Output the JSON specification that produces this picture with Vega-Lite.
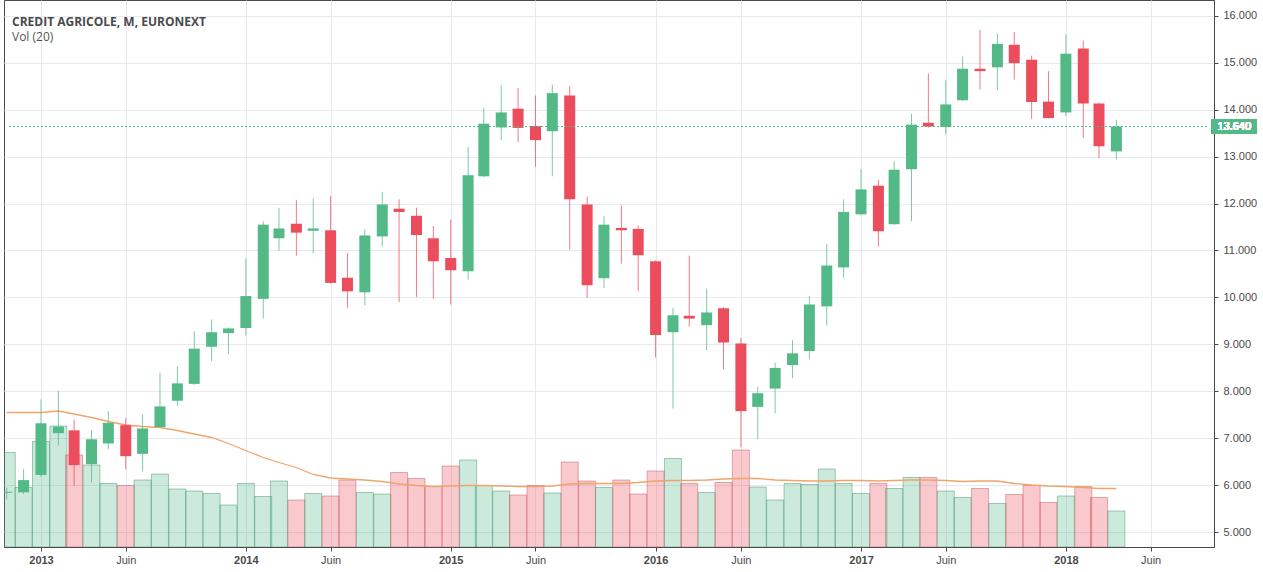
{
  "$schema": "https://vega.github.io/schema/vega-lite/v6.json",
  "width": 1210,
  "height": 547,
  "padding": {"left": 4, "top": 0, "right": 0, "bottom": 0},
  "autosize": {"type": "pad"},
  "background": "white",
  "title": {
    "text": "CREDIT AGRICOLE, M, EURONEXT",
    "subtitle": "Vol (20)",
    "anchor": "start",
    "frame": "group",
    "orient": "top",
    "offset": -44,
    "dx": 8,
    "font": "Open Sans",
    "fontSize": 12,
    "fontWeight": "bold",
    "color": "#4a4a4a",
    "subtitleFont": "Open Sans",
    "subtitleFontSize": 12,
    "subtitleColor": "#555555",
    "subtitlePadding": 3
  },
  "config": {
    "view": {"stroke": "#4a4a4a", "strokeWidth": 1},
    "axis": {
      "gridColor": "#e6e9ee",
      "domainColor": "#4a4a4a",
      "tickColor": "#4a4a4a",
      "labelColor": "#4a4a4a",
      "labelFont": "Liberation Sans",
      "labelFontSize": 11,
      "tickSize": 4
    }
  },
  "data": {
    "values": [
      {"date": "2012-11-01", "open": 5.84, "high": 5.95, "low": 5.70, "close": 5.86, "vol": 189, "ma": 269},
      {"date": "2012-12-01", "open": 5.85, "high": 6.34, "low": 5.81, "close": 6.11, "vol": 119, "ma": 269},
      {"date": "2013-01-01", "open": 6.22, "high": 7.83, "low": 6.18, "close": 7.32, "vol": 211, "ma": 269},
      {"date": "2013-02-01", "open": 7.11, "high": 8.01, "low": 6.85, "close": 7.25, "vol": 242, "ma": 272},
      {"date": "2013-03-01", "open": 7.17, "high": 7.40, "low": 5.99, "close": 6.43, "vol": 184, "ma": 266},
      {"date": "2013-04-01", "open": 6.45, "high": 7.18, "low": 6.06, "close": 6.98, "vol": 164, "ma": 259},
      {"date": "2013-05-01", "open": 6.89, "high": 7.58, "low": 6.77, "close": 7.33, "vol": 127, "ma": 251},
      {"date": "2013-06-01", "open": 7.28, "high": 7.43, "low": 6.34, "close": 6.62, "vol": 123, "ma": 244},
      {"date": "2013-07-01", "open": 6.67, "high": 7.51, "low": 6.30, "close": 7.21, "vol": 134, "ma": 241},
      {"date": "2013-08-01", "open": 7.24, "high": 8.40, "low": 7.22, "close": 7.68, "vol": 146, "ma": 239},
      {"date": "2013-09-01", "open": 7.80, "high": 8.53, "low": 7.69, "close": 8.17, "vol": 116, "ma": 233},
      {"date": "2013-10-01", "open": 8.16, "high": 9.28, "low": 8.14, "close": 8.91, "vol": 112, "ma": 226},
      {"date": "2013-11-01", "open": 8.95, "high": 9.53, "low": 8.64, "close": 9.26, "vol": 107, "ma": 219},
      {"date": "2013-12-01", "open": 9.24, "high": 9.36, "low": 8.79, "close": 9.34, "vol": 84, "ma": 207},
      {"date": "2014-01-01", "open": 9.35, "high": 10.83, "low": 9.19, "close": 10.03, "vol": 127, "ma": 193},
      {"date": "2014-02-01", "open": 9.97, "high": 11.62, "low": 9.55, "close": 11.55, "vol": 101, "ma": 179},
      {"date": "2014-03-01", "open": 11.26, "high": 11.91, "low": 10.99, "close": 11.47, "vol": 132, "ma": 169},
      {"date": "2014-04-01", "open": 11.57, "high": 12.07, "low": 10.89, "close": 11.38, "vol": 94, "ma": 159},
      {"date": "2014-05-01", "open": 11.42, "high": 12.11, "low": 10.94, "close": 11.47, "vol": 107, "ma": 145},
      {"date": "2014-06-01", "open": 11.43, "high": 12.16, "low": 10.29, "close": 10.31, "vol": 102, "ma": 138},
      {"date": "2014-07-01", "open": 10.42, "high": 10.95, "low": 9.78, "close": 10.13, "vol": 134, "ma": 136},
      {"date": "2014-08-01", "open": 10.11, "high": 11.45, "low": 9.83, "close": 11.32, "vol": 109, "ma": 134},
      {"date": "2014-09-01", "open": 11.30, "high": 12.25, "low": 11.08, "close": 11.98, "vol": 106, "ma": 131},
      {"date": "2014-10-01", "open": 11.89, "high": 12.09, "low": 9.90, "close": 11.82, "vol": 149, "ma": 126},
      {"date": "2014-11-01", "open": 11.74, "high": 11.91, "low": 10.01, "close": 11.33, "vol": 137, "ma": 123},
      {"date": "2014-12-01", "open": 11.26, "high": 11.52, "low": 9.97, "close": 10.77, "vol": 121, "ma": 121},
      {"date": "2015-01-01", "open": 10.84, "high": 11.66, "low": 9.85, "close": 10.58, "vol": 162, "ma": 122},
      {"date": "2015-02-01", "open": 10.56, "high": 13.20, "low": 10.38, "close": 12.60, "vol": 174, "ma": 123},
      {"date": "2015-03-01", "open": 12.58, "high": 14.04, "low": 12.56, "close": 13.70, "vol": 123, "ma": 123},
      {"date": "2015-04-01", "open": 13.62, "high": 14.52, "low": 13.35, "close": 13.94, "vol": 112, "ma": 122},
      {"date": "2015-05-01", "open": 14.02, "high": 14.46, "low": 13.31, "close": 13.61, "vol": 104, "ma": 121},
      {"date": "2015-06-01", "open": 13.65, "high": 14.30, "low": 12.78, "close": 13.35, "vol": 123, "ma": 121},
      {"date": "2015-07-01", "open": 13.54, "high": 14.53, "low": 12.58, "close": 14.35, "vol": 108, "ma": 122},
      {"date": "2015-08-01", "open": 14.30, "high": 14.50, "low": 11.02, "close": 12.09, "vol": 170, "ma": 126},
      {"date": "2015-09-01", "open": 11.98, "high": 12.14, "low": 9.99, "close": 10.26, "vol": 132, "ma": 127},
      {"date": "2015-10-01", "open": 10.41, "high": 11.74, "low": 10.20, "close": 11.55, "vol": 119, "ma": 127},
      {"date": "2015-11-01", "open": 11.48, "high": 11.96, "low": 10.72, "close": 11.43, "vol": 134, "ma": 127},
      {"date": "2015-12-01", "open": 11.46, "high": 11.53, "low": 10.13, "close": 10.90, "vol": 106, "ma": 129},
      {"date": "2016-01-01", "open": 10.77, "high": 10.79, "low": 8.72, "close": 9.20, "vol": 152, "ma": 132},
      {"date": "2016-02-01", "open": 9.26, "high": 9.78, "low": 7.63, "close": 9.62, "vol": 177, "ma": 133},
      {"date": "2016-03-01", "open": 9.61, "high": 10.89, "low": 9.38, "close": 9.55, "vol": 127, "ma": 133},
      {"date": "2016-04-01", "open": 9.41, "high": 10.19, "low": 8.87, "close": 9.68, "vol": 109, "ma": 134},
      {"date": "2016-05-01", "open": 9.77, "high": 9.79, "low": 8.47, "close": 9.04, "vol": 129, "ma": 136},
      {"date": "2016-06-01", "open": 9.02, "high": 9.14, "low": 6.81, "close": 7.58, "vol": 194, "ma": 137},
      {"date": "2016-07-01", "open": 7.67, "high": 8.10, "low": 6.99, "close": 7.96, "vol": 120, "ma": 137},
      {"date": "2016-08-01", "open": 8.06, "high": 8.61, "low": 7.53, "close": 8.50, "vol": 94, "ma": 134},
      {"date": "2016-09-01", "open": 8.56, "high": 9.09, "low": 8.28, "close": 8.81, "vol": 127, "ma": 133},
      {"date": "2016-10-01", "open": 8.86, "high": 10.03, "low": 8.68, "close": 9.85, "vol": 125, "ma": 132},
      {"date": "2016-11-01", "open": 9.81, "high": 11.14, "low": 9.40, "close": 10.68, "vol": 156, "ma": 132},
      {"date": "2016-12-01", "open": 10.64, "high": 12.09, "low": 10.42, "close": 11.82, "vol": 127, "ma": 133},
      {"date": "2017-01-01", "open": 11.77, "high": 12.74, "low": 11.75, "close": 12.30, "vol": 107, "ma": 133},
      {"date": "2017-02-01", "open": 12.38, "high": 12.50, "low": 11.08, "close": 11.41, "vol": 127, "ma": 132},
      {"date": "2017-03-01", "open": 11.56, "high": 12.90, "low": 11.54, "close": 12.72, "vol": 117, "ma": 133},
      {"date": "2017-04-01", "open": 12.73, "high": 13.91, "low": 11.62, "close": 13.68, "vol": 139, "ma": 134},
      {"date": "2017-05-01", "open": 13.72, "high": 14.77, "low": 13.62, "close": 13.64, "vol": 139, "ma": 134},
      {"date": "2017-06-01", "open": 13.63, "high": 14.62, "low": 13.47, "close": 14.11, "vol": 112, "ma": 133},
      {"date": "2017-07-01", "open": 14.20, "high": 15.13, "low": 14.18, "close": 14.87, "vol": 99, "ma": 131},
      {"date": "2017-08-01", "open": 14.87, "high": 15.70, "low": 14.43, "close": 14.82, "vol": 117, "ma": 132},
      {"date": "2017-09-01", "open": 14.90, "high": 15.62, "low": 14.41, "close": 15.40, "vol": 87, "ma": 132},
      {"date": "2017-10-01", "open": 15.38, "high": 15.65, "low": 14.64, "close": 14.99, "vol": 105, "ma": 127},
      {"date": "2017-11-01", "open": 15.06, "high": 15.15, "low": 13.80, "close": 14.16, "vol": 123, "ma": 124},
      {"date": "2017-12-01", "open": 14.17, "high": 14.82, "low": 13.81, "close": 13.82, "vol": 89, "ma": 122},
      {"date": "2018-01-01", "open": 13.94, "high": 15.60, "low": 13.86, "close": 15.19, "vol": 102, "ma": 121},
      {"date": "2018-02-01", "open": 15.30, "high": 15.47, "low": 13.40, "close": 14.13, "vol": 121, "ma": 119},
      {"date": "2018-03-01", "open": 14.13, "high": 14.15, "low": 12.97, "close": 13.22, "vol": 99, "ma": 117},
      {"date": "2018-04-01", "open": 13.11, "high": 13.79, "low": 12.94, "close": 13.64, "vol": 72, "ma": 117}
    ]
  },
  "layer": [
    {
      "mark": {"type": "bar", "size": 17, "clip": true, "fillOpacity": 0.3, "strokeOpacity": 0.45, "strokeWidth": 1},
      "encoding": {
        "x": {
          "field": "date",
          "type": "temporal",
          "title": null,
          "scale": {"type": "utc", "nice": false, "domain": [{"year": 2012, "month": 11, "date": 5, "utc": true}, {"year": 2018, "month": 9, "date": 13, "utc": true}]},
          "axis": {
            "values": [1356998400000, 1370044800000, 1388534400000, 1401580800000, 1420070400000, 1433116800000, 1451606400000, 1464739200000, 1483228800000, 1496275200000, 1514764800000, 1527811200000],
            "labelExpr": "utcmonth(datum.value) == 0 ? utcFormat(datum.value, '%Y') : 'Juin'",
            "labelFontWeight": {"condition": {"test": "utcmonth(datum.value) == 0", "value": "bold"}, "value": "normal"},
            "grid": true,
            "labelPadding": 3,
            "labelFlush": false
          }
        },
        "y": {"field": "vol", "type": "quantitative", "title": null, "axis": null, "scale": {"domain": [0, 1094], "nice": false}},
        "color": {"condition": {"test": "datum.close >= datum.open", "value": "#53b987"}, "value": "#eb4d5c"},
        "stroke": {"condition": {"test": "datum.close >= datum.open", "value": "#3f8f68"}, "value": "#c0505c"}
      }
    },
    {
      "mark": {"type": "line", "clip": true, "color": "#f0a46a", "strokeWidth": 1.3},
      "encoding": {
        "x": {"field": "date", "type": "temporal", "title": null},
        "y": {"field": "ma", "type": "quantitative", "title": null, "axis": null, "scale": {"domain": [0, 1094], "nice": false}}
      }
    },
    {
      "mark": {"type": "rule", "clip": true, "strokeWidth": 1, "opacity": 0.75},
      "encoding": {
        "x": {"field": "date", "type": "temporal", "title": null},
        "y": {
          "field": "low", "type": "quantitative", "title": null,
          "scale": {"domain": [4.686, 16.334], "nice": false, "zero": false},
          "axis": {"orient": "right", "values": [5, 6, 7, 8, 9, 10, 11, 12, 13, 14, 15, 16], "format": ".3f", "grid": true, "labelPadding": 5}
        },
        "y2": {"field": "high"},
        "color": {"condition": {"test": "datum.close >= datum.open", "value": "#53b987"}, "value": "#eb4d5c"}
      }
    },
    {
      "mark": {"type": "bar", "size": 11, "clip": true},
      "encoding": {
        "x": {"field": "date", "type": "temporal", "title": null},
        "y": {"field": "open", "type": "quantitative", "title": null, "axis": null, "scale": {"domain": [4.686, 16.334], "nice": false, "zero": false}},
        "y2": {"field": "close"},
        "color": {"condition": {"test": "datum.close >= datum.open", "value": "#53b987"}, "value": "#eb4d5c"}
      }
    },
    {
      "mark": {"type": "rule", "color": "#53b987", "strokeDash": [2, 2], "strokeWidth": 1},
      "encoding": {
        "x": {"datum": {"year": 2012, "month": 11, "date": 5, "utc": true}, "type": "temporal", "title": null},
        "x2": {"datum": {"year": 2018, "month": 9, "date": 13, "utc": true}},
        "y": {"datum": 13.64, "type": "quantitative", "axis": null, "title": null, "scale": {"domain": [4.686, 16.334], "nice": false, "zero": false}}
      }
    },
    {
      "mark": {"type": "rect", "color": "#53b987", "clip": false},
      "encoding": {
        "x": {"datum": {"year": 2018, "month": 9, "date": 18, "utc": true}, "type": "temporal", "title": null},
        "x2": {"datum": {"year": 2018, "month": 12, "date": 6, "utc": true}},
        "y": {"datum": 13.80, "type": "quantitative", "axis": null, "title": null, "scale": {"domain": [4.686, 16.334], "nice": false, "zero": false}},
        "y2": {"datum": 13.49}
      }
    },
    {
      "mark": {"type": "text", "color": "white", "font": "Liberation Sans", "fontSize": 11, "align": "center", "baseline": "middle", "clip": false},
      "encoding": {
        "x": {"datum": {"year": 2018, "month": 10, "date": 28, "utc": true}, "type": "temporal", "title": null},
        "y": {"datum": 13.64, "type": "quantitative", "axis": null, "title": null, "scale": {"domain": [4.686, 16.334], "nice": false, "zero": false}},
        "text": {"value": "13.640"}
      }
    }
  ],
  "resolve": {"scale": {"y": "independent"}, "axis": {"y": "independent"}}
}
